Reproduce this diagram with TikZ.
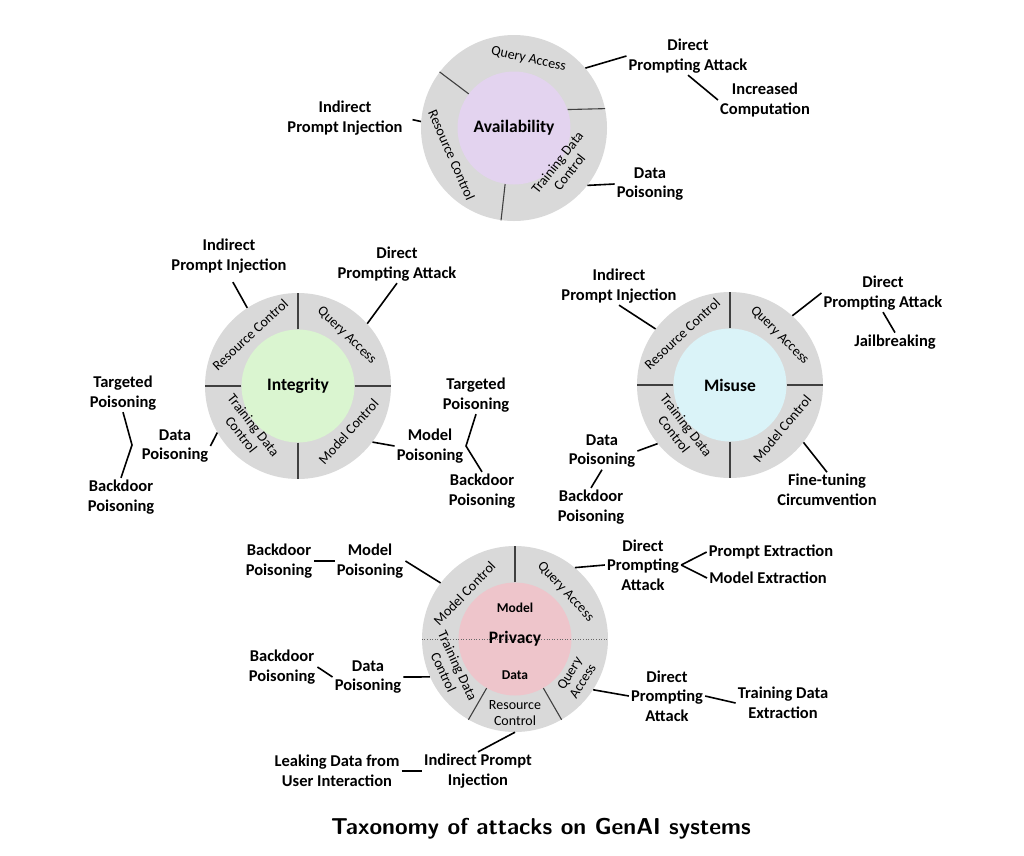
\documentclass[tikz,border=0pt]{standalone}
\usepackage{fontspec}
\setmainfont{Carlito}
\usetikzlibrary{calc}
\definecolor{ringgray}{HTML}{D9D9D9}
\definecolor{availfill}{HTML}{E3D3EF}
\definecolor{integfill}{HTML}{DAF5D0}
\definecolor{misfill}{HTML}{DAF3F8}
\definecolor{privfill}{HTML}{EEC5CB}
\tikzset{
  wheel/.style={circle, fill=ringgray, minimum size=186pt, inner sep=0pt},
  hub/.style={circle, minimum size=113pt, inner sep=0pt,
              font=\bfseries\fontsize{17.5}{20}\selectfont},
  seg/.style={inner sep=0pt, align=center, font=\fontsize{14}{15.5}\selectfont},
  lbl/.style={inner sep=2pt, align=center,
              font=\bfseries\fontsize{16.5}{19.5}\selectfont},
  link/.style={line width=1.6pt, draw=black},
  divider/.style={line width=1.1pt, draw=black!75}
}
\begin{document}
\begin{tikzpicture}[x=1pt, y=1pt]
  \useasboundingbox (0,0) rectangle (1024,-855);

  % Availability wheel
  \node[wheel] (av) at (514,-128) {};
  \node[hub, fill=availfill] (avh) at (av) {Availability};
  \draw[divider] (avh.143) -- (av.143);
  \draw[divider] (avh.19) -- (av.12);
  \draw[divider] (avh.261) -- (av.262);
  \node[seg, rotate=-12]   at ($(av)+(78:70)$)    {Query Access};
  \node[seg, rotate=-66.5] at ($(av)+(203.5:68)$) {Resource Control};
  \node[seg, rotate=51.5]  at ($(av)+(-38.5:63)$) {Training Data\\Control};

  \node[lbl] (av-dpa) at (688,-56)  {Direct\\Prompting Attack};
  \node[lbl] (av-ic)  at (765,-100) {Increased\\Computation};
  \node[lbl] (av-ipi) at (345,-118) {Indirect\\Prompt Injection};
  \node[lbl] (av-dp)  at (650,-184) {Data\\Poisoning};
  \draw[link] (av.40) -- (av-dpa.west);
  \draw[link] (av-dpa.south) -- (av-ic.west);
  \draw[link, shorten <=8pt] (av-ipi.east) -- (av.176);
  \draw[link] (av.-38) -- (av-dp.west);

  % Integrity wheel
  \node[wheel] (in) at (298,-386) {};
  \node[hub, fill=integfill] (inh) at (in) {Integrity};
  \foreach \a in {0,90,180,270}{
    \draw[divider] (inh.\a) -- (in.\a);
  }
  \node[seg, rotate=43]  at ($(in)+(133:70)$) {Resource Control};
  \node[seg, rotate=-44] at ($(in)+(46:70)$)  {Query Access};
  \node[seg, rotate=-52] at ($(in)+(221:67)$) {Training Data\\Control};
  \node[seg, rotate=48]  at ($(in)+(-42:68)$) {Model Control};

  \node[lbl] (in-ipi) at (229,-256) {Indirect\\Prompt Injection};
  \node[lbl] (in-dpa) at (397,-264) {Direct\\Prompting Attack};
  \node[lbl] (in-tp)  at (123,-393) {Targeted\\Poisoning};
  \node[lbl] (in-dp)  at (175,-446) {Data\\Poisoning};
  \node[lbl] (in-bp)  at (121,-497) {Backdoor\\Poisoning};
  \node[lbl] (in-tp2) at (476,-395) {Targeted\\Poisoning};
  \node[lbl] (in-mp)  at (430,-446) {Model\\Poisoning};
  \node[lbl] (in-bp2) at (482,-491) {Backdoor\\Poisoning};
  \coordinate (in-dpv) at (132,-445);
  \coordinate (in-mpv) at (466,-446);
  \draw[link, shorten <=8pt] (in-ipi.south) -- (in.123);
  \draw[link] (in-dpa.south) -- (in.42);
  \draw[link] (in-dp.east) -- (in.210);
  \draw[link] (in-tp.south) -- (in-dpv) -- (in-bp.north);
  \draw[link] (in.-37) -- (in-mp.west);
  \draw[link] (in-tp2.south) -- (in-mpv) -- (in-bp2.north);

  % Misuse wheel
  \node[wheel] (mi) at (730,-385) {};
  \node[hub, fill=misfill] (mih) at (mi) {Misuse};
  \foreach \a in {0,90,180,270}{
    \draw[divider] (mih.\a) -- (mi.\a);
  }
  \node[seg, rotate=43]  at ($(mi)+(133:70)$) {Resource Control};
  \node[seg, rotate=-45] at ($(mi)+(45:70)$)  {Query Access};
  \node[seg, rotate=-52] at ($(mi)+(222:67)$) {Training Data\\Control};
  \node[seg, rotate=50]  at ($(mi)+(-40:68)$) {Model Control};

  \node[lbl] (mi-ipi) at (619,-286) {Indirect\\Prompt Injection};
  \node[lbl] (mi-dpa) at (883,-293) {Direct\\Prompting Attack};
  \node[lbl] (mi-jb)  at (895,-342) {Jailbreaking};
  \node[lbl] (mi-dp)  at (602,-451) {Data\\Poisoning};
  \node[lbl] (mi-bp)  at (591,-507) {Backdoor\\Poisoning};
  \node[lbl] (mi-ftc) at (827,-490) {Fine-tuning\\Circumvention};
  \draw[link] (mi-ipi.south) -- (mi.143);
  \draw[link] (mi-dpa.west) -- (mi.48);
  \draw[link] (mi-dpa.south) -- (mi-jb.north);
  \draw[link] (mi-dp.east) -- (mi.219);
  \draw[link] (mi-dp.south) -- (mi-bp.north);
  \draw[link] (mi.-38) -- (mi-ftc.north);

  % Privacy wheel, split into model and data halves
  \node[wheel] (pr) at (515,-639) {};
  \node[hub, fill=privfill] (prh) at (pr) {};
  \foreach \a in {90,240,300}{
    \draw[divider] (prh.\a) -- (pr.\a);
  }
  \draw[dotted, line width=0.6pt, black!60] (pr.180) -- (pr.0);
  \node[hub, minimum size=0pt] (prt) at (pr) {Privacy};
  \node[font=\bfseries\fontsize{13.5}{15}\selectfont] (prm) at (515,-608) {Model};
  \node[font=\bfseries\fontsize{13.5}{15}\selectfont] (prd) at (515,-675) {Data};
  \node[seg, rotate=46]  at ($(pr)+(138:68)$) {Model Control};
  \node[seg, rotate=-47] at ($(pr)+(43:69)$)  {Query Access};
  \node[seg, rotate=-65] at ($(pr)+(205:71)$) {Training Data\\Control};
  \node[seg]             at ($(pr)+(270:74)$) {Resource\\Control};
  \node[seg, rotate=58]  at ($(pr)+(-32:72)$) {Query\\Access};

  \node[lbl] (pr-bp)   at (279,-561) {Backdoor\\Poisoning};
  \node[lbl] (pr-mp)   at (370,-561) {Model\\Poisoning};
  \node[lbl] (pr-dpa)  at (643,-565) {Direct\\Prompting\\Attack};
  \node[lbl] (pr-pe)   at (771,-552) {Prompt Extraction};
  \node[lbl] (pr-me)   at (768,-578) {Model Extraction};
  \node[lbl] (pr-bp2)  at (282,-667) {Backdoor\\Poisoning};
  \node[lbl] (pr-dp)   at (368,-677) {Data\\Poisoning};
  \node[lbl] (pr-dpa2) at (667,-696) {Direct\\Prompting\\Attack};
  \node[lbl] (pr-tde)  at (783,-703) {Training Data\\Extraction};
  \node[lbl] (pr-ldu)  at (337,-771) {Leaking Data from\\User Interaction};
  \node[lbl] (pr-ipi)  at (478,-771) {Indirect Prompt\\Injection};
  \draw[link] (pr-bp.east) -- (pr-mp.west);
  \draw[link] (pr-mp.east) -- (pr.143);
  \draw[link] (pr.50) -- (pr-dpa.west);
  \foreach \t in {pr-pe,pr-me}{
    \draw[link] (pr-dpa.east) -- (\t.west);
  }
  \draw[link] (pr-bp2.east) -- (pr-dp.west);
  \draw[link] (pr-dp.east) -- (pr.204);
  \draw[link] (pr.-33) -- (pr-dpa2.west);
  \draw[link] (pr-dpa2.east) -- (pr-tde.west);
  \draw[link] (pr-ldu.east) -- (pr-ipi.west);
  \draw[link] (pr-ipi.north) -- (pr.-90);

  % Caption
  \node[font=\sffamily\bfseries\fontsize{23}{27}\selectfont] (title) at (541,-829)
       {Taxonomy of attacks on GenAI systems};
\end{tikzpicture}
\end{document}
